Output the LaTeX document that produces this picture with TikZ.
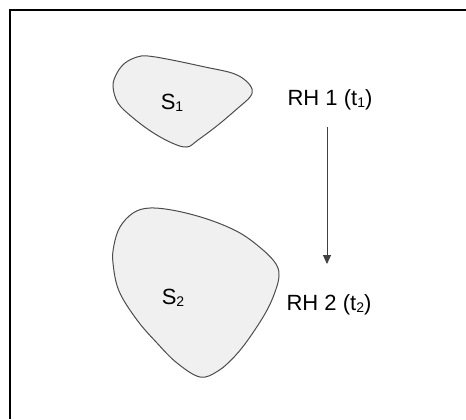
\documentclass[tikz,border=0pt]{standalone}
\usepackage{fontspec}
\setmainfont{Liberation Sans}
\usepackage{tikz}
\usepackage{tkz-euclide}
\usetikzlibrary{arrows.meta}
\newcommand{\lowsub}[1]{\raisebox{-1pt}{\fontsize{7}{8}\selectfont #1}}

\begin{document}
\begin{tikzpicture}[x=0.5pt,y=-0.5pt,font=\fontsize{11}{13}\selectfont]
      \useasboundingbox (0,0) rectangle (466,419);
      \tkzDefPoint(10,419){F''}
      \tkzDefPoint(10,10){F}
      \tkzDefPoint(466,10){F'}
      \draw[line width=1pt] (F'') -- (F) -- (F');

      \filldraw[fill=black!6,draw=black!70,line width=0.5pt] plot[smooth cycle,tension=0.6] coordinates {
        (113,86) (117,73) (125,63) (137,57) (148,56) (172,60) (205,67) (232,73)
        (245,80) (252,89) (250,97) (238,108) (218,125) (198,140) (187,147)
        (172,143) (152,132) (132,117) (118,103)};
      \node (s1) at (172,103) {S\lowsub{1}};
      \node (rh1) at (330,100) {RH 1 (t\lowsub{1})};

      \filldraw[fill=black!6,draw=black!70,line width=0.5pt] plot[smooth cycle,tension=0.6] coordinates {
        (150,208) (177,211) (210,220) (240,233) (263,250) (276,264) (279,276)
        (275,292) (266,312) (250,337) (235,356) (218,371) (200,377) (177,363)
        (157,343) (137,320) (119,291) (113,263) (114,245) (120,227) (133,213)};
      \node (s2) at (173,298) {S\lowsub{2}};
      \node (rh2) at (329,305) {RH 2 (t\lowsub{2})};

      \tkzDefPoint(327,127){a}
      \tkzDefPoint(327,264){a'}
      \draw[black!75,line width=0.5pt,-{Triangle[width=4pt,length=4.5pt]}] (a) -- (a');
\end{tikzpicture}
\end{document}
